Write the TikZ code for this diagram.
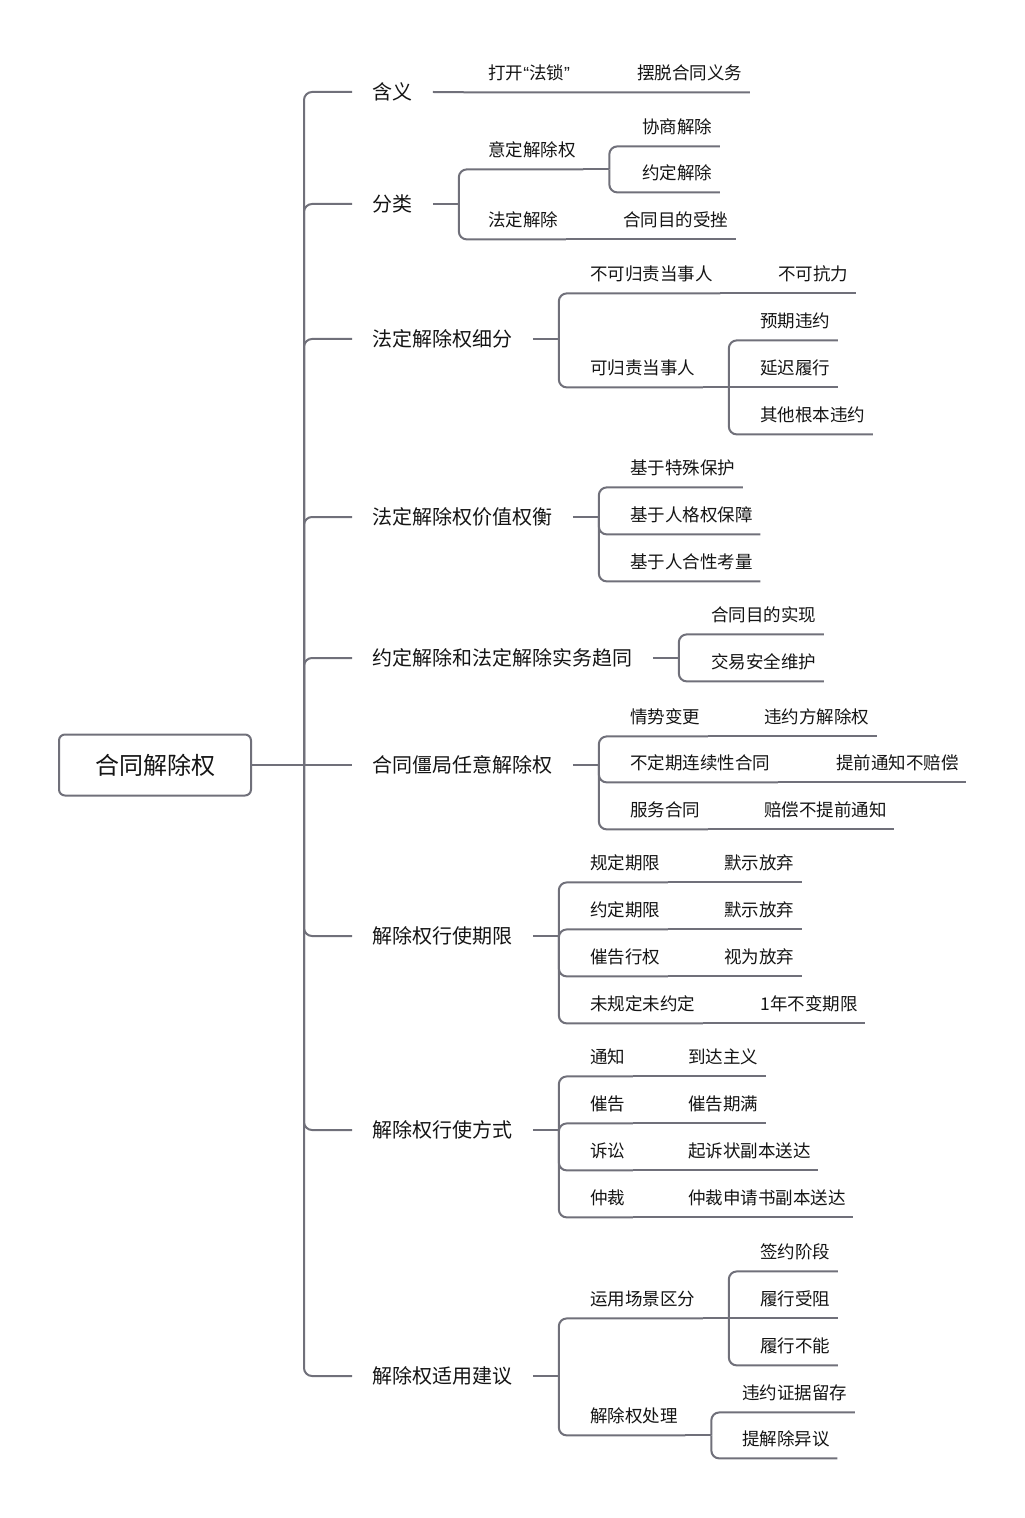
\documentclass[tikz,border=0pt]{standalone}
\usepackage{fontspec}
\setmainfont{Noto Sans CJK SC}
\newfontfamily\quotefont{Liberation Sans}
\definecolor{linegray}{RGB}{112,112,122}
\definecolor{inkgray}{RGB}{20,20,20}

\begin{document}
\begin{tikzpicture}[x=0.5pt,y=-0.5pt,
  link/.style={linegray,line width=1pt},
  elbow/.style={link,rounded corners=4pt},
  rootbox/.style={draw=linegray,line width=1pt,rounded corners=3pt,minimum width=96pt,minimum height=30.5pt,inner sep=0pt,text=inkgray,font=\fontsize{12pt}{14pt}\selectfont},
  topic/.style={anchor=west,inner xsep=10pt,inner ysep=0pt,text height=8.8pt,text depth=1.2pt,text=inkgray,font=\fontsize{10pt}{12pt}\selectfont},
  leaf/.style={anchor=west,inner xsep=3.5pt,inner ysep=0pt,minimum height=19pt,text height=7.7pt,text depth=1.05pt,text=inkgray,font=\fontsize{8.75pt}{10pt}\selectfont}]
\useasboundingbox (0,0) rectangle (1024,1518);
% root and main topics
\node[rootbox] (root) at (155,765) {合同解除权};
\node[topic] (t1) at (352,92) {含义};
\node[topic] (t2) at (352,204) {分类};
\node[topic] (t3) at (352,339) {法定解除权细分};
\node[topic] (t4) at (352,517) {法定解除权价值权衡};
\node[topic] (t5) at (352,658) {约定解除和法定解除实务趋同};
\node[topic] (t6) at (352,765) {合同僵局任意解除权};
\node[topic] (t7) at (352,936) {解除权行使期限};
\node[topic] (t8) at (352,1130) {解除权行使方式};
\node[topic] (t9) at (352,1376) {解除权适用建议};
% subtopics
\node[leaf] (t1a) at (481,73) {打开{\quotefont“}法锁{\quotefont”}};
\node[leaf] (t1a1) at (630,73) {摆脱合同义务};
\node[leaf] (t2a) at (481,150) {意定解除权};
\node[leaf] (t2a1) at (635,127) {协商解除};
\node[leaf] (t2a2) at (635,173) {约定解除};
\node[leaf] (t2b) at (481,220) {法定解除};
\node[leaf] (t2b1) at (616,220) {合同目的受挫};
\node[leaf] (t3a) at (583,274) {不可归责当事人};
\node[leaf] (t3a1) at (771,274) {不可抗力};
\node[leaf] (t3b) at (583,368) {可归责当事人};
\node[leaf] (t3b1) at (753,321) {预期违约};
\node[leaf] (t3b2) at (753,368) {延迟履行};
\node[leaf] (t3b3) at (753,415) {其他根本违约};
\node[leaf] (t4a) at (623,468) {基于特殊保护};
\node[leaf] (t4b) at (623,515) {基于人格权保障};
\node[leaf] (t4c) at (623,562) {基于人合性考量};
\node[leaf] (t5a) at (704,615) {合同目的实现};
\node[leaf] (t5b) at (704,662) {交易安全维护};
\node[leaf] (t6a) at (623,717) {情势变更};
\node[leaf] (t6a1) at (757,717) {违约方解除权};
\node[leaf] (t6b) at (623,763) {不定期连续性合同};
\node[leaf] (t6b1) at (829,763) {提前通知不赔偿};
\node[leaf] (t6c) at (623,810) {服务合同};
\node[leaf] (t6c1) at (757,810) {赔偿不提前通知};
\node[leaf] (t7a) at (583,863) {规定期限};
\node[leaf] (t7a1) at (717,863) {默示放弃};
\node[leaf] (t7b) at (583,910) {约定期限};
\node[leaf] (t7b1) at (717,910) {默示放弃};
\node[leaf] (t7c) at (583,957) {催告行权};
\node[leaf] (t7c1) at (717,957) {视为放弃};
\node[leaf] (t7d) at (583,1004) {未规定未约定};
\node[leaf] (t7d1) at (753,1004) {1年不变期限};
\node[leaf] (t8a) at (583,1057) {通知};
\node[leaf] (t8a1) at (681,1057) {到达主义};
\node[leaf] (t8b) at (583,1104) {催告};
\node[leaf] (t8b1) at (681,1104) {催告期满};
\node[leaf] (t8c) at (583,1151) {诉讼};
\node[leaf] (t8c1) at (681,1151) {起诉状副本送达};
\node[leaf] (t8d) at (583,1198) {仲裁};
\node[leaf] (t8d1) at (681,1198) {仲裁申请书副本送达};
\node[leaf] (t9a) at (583,1299) {运用场景区分};
\node[leaf] (t9a1) at (753,1252) {签约阶段};
\node[leaf] (t9a2) at (753,1299) {履行受阻};
\node[leaf] (t9a3) at (753,1346) {履行不能};
\node[leaf] (t9b) at (583,1416) {解除权处理};
\node[leaf] (t9b1) at (735,1393) {违约证据留存};
\node[leaf] (t9b2) at (735,1439) {提解除异议};
% trunk
\coordinate (trunk) at ([xshift=26pt]root.east);
\draw[link] (root.east) -- (t6.west);
\foreach \nd in {t1,t2,t3,t4,t5,t7,t8,t9}
  \draw[elbow] (trunk) |- (\nd.west);
% forks after each topic
\foreach \nd in {t2,t3,t4,t5,t6,t7,t8,t9}
  \coordinate (j\nd) at ([xshift=13pt]\nd.east);
\foreach \nd in {t2,t3,t4,t5,t6,t7,t8,t9}
  \draw[link] (\nd.east) -- (j\nd);
\draw[link] (t1.east) -- (t1a.south west) -- (t1a.south east) -- (t1a1.south west) -- (t1a1.south east);
\foreach \nd in {t2a,t2b}
  \draw[elbow] (jt2) |- (\nd.south west) -- (\nd.south east);
\foreach \nd in {t3a,t3b}
  \draw[elbow] (jt3) |- (\nd.south west) -- (\nd.south east);
\foreach \nd in {t4a,t4b,t4c}
  \draw[elbow] (jt4) |- (\nd.south west) -- (\nd.south east);
\foreach \nd in {t5a,t5b}
  \draw[elbow] (jt5) |- (\nd.south west) -- (\nd.south east);
\foreach \nd in {t6a,t6b,t6c}
  \draw[elbow] (jt6) |- (\nd.south west) -- (\nd.south east);
\foreach \nd in {t7a,t7b,t7c,t7d}
  \draw[elbow] (jt7) |- (\nd.south west) -- (\nd.south east);
\foreach \nd in {t8a,t8b,t8c,t8d}
  \draw[elbow] (jt8) |- (\nd.south west) -- (\nd.south east);
\foreach \nd in {t9a,t9b}
  \draw[elbow] (jt9) |- (\nd.south west) -- (\nd.south east);
% single follow-ups
\foreach \nd in {t2b,t3a,t6a,t6b,t6c,t7a,t7b,t7c,t7d,t8a,t8b,t8c,t8d}
  \draw[link] (\nd.south east) -- (\nd1.south west) -- (\nd1.south east);
% second level forks
\foreach \nd in {t2a,t3b,t9a,t9b}
  \coordinate (j\nd) at ([xshift=13pt]\nd.south east);
\foreach \nd in {t2a,t3b,t9a,t9b}
  \draw[link] (\nd.south east) -- (j\nd);
\foreach \nd in {t2a1,t2a2}
  \draw[elbow] (jt2a) |- (\nd.south west) -- (\nd.south east);
\draw[link] (jt3b) -- (t3b2.south west) -- (t3b2.south east);
\foreach \nd in {t3b1,t3b3}
  \draw[elbow] (jt3b) |- (\nd.south west) -- (\nd.south east);
\draw[link] (jt9a) -- (t9a2.south west) -- (t9a2.south east);
\foreach \nd in {t9a1,t9a3}
  \draw[elbow] (jt9a) |- (\nd.south west) -- (\nd.south east);
\foreach \nd in {t9b1,t9b2}
  \draw[elbow] (jt9b) |- (\nd.south west) -- (\nd.south east);
\end{tikzpicture}
\end{document}
